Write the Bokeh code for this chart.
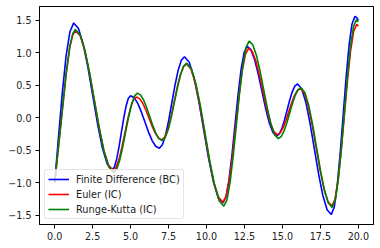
from bokeh.plotting import figure
from bokeh.models import Range1d, FixedTicker, Legend, LegendItem
from bokeh.embed import file_html
from bokeh.resources import INLINE

# ---- data ----
t_fd = [0, 0.25, 0.5, 0.75, 1.0, 1.25, 1.566, 1.883, 2.199, 2.515, 2.831, 3.148, 3.464, 3.78,
        3.933, 4.085, 4.238, 4.39, 4.543, 4.695, 4.848, 5.0, 5.236, 5.473, 5.709, 5.945, 6.181,
        6.418, 6.654, 6.89, 7.098, 7.305, 7.513, 7.72, 7.928, 8.135, 8.343, 8.55, 8.866, 9.183,
        9.499, 9.815, 10.131, 10.448, 10.764, 11.08, 11.28, 11.48, 11.68, 11.88, 12.08, 12.28,
        12.48, 12.68, 12.923, 13.165, 13.408, 13.65, 13.893, 14.135, 14.378, 14.62, 14.793,
        14.965, 15.138, 15.31, 15.483, 15.655, 15.828, 16.0, 16.278, 16.555, 16.833, 17.11,
        17.388, 17.665, 17.943, 18.22, 18.415, 18.61, 18.805, 19.0, 19.195, 19.39, 19.585,
        19.78, 19.9, 20.0]
y_fd = [-1.0, -0.30, 0.38, 0.95, 1.32, 1.46, 1.374, 1.129, 0.763, 0.33, -0.103, -0.469, -0.714,
        -0.80, -0.757, -0.633, -0.448, -0.23, -0.012, 0.173, 0.297, 0.34, 0.309, 0.221, 0.09,
        -0.065, -0.22, -0.351, -0.439, -0.47, -0.416, -0.263, -0.035, 0.235, 0.505, 0.733, 0.886,
        0.94, 0.855, 0.61, 0.246, -0.185, -0.616, -0.98, -1.225, -1.31, -1.218, -0.957, -0.567,
        -0.105, 0.357, 0.747, 1.008, 1.10, 1.048, 0.898, 0.674, 0.41, 0.146, -0.078, -0.228,
        -0.28, -0.25, -0.163, -0.033, 0.12, 0.273, 0.403, 0.49, 0.52, 0.444, 0.226, -0.1, -0.485,
        -0.87, -1.196, -1.414, -1.49, -1.374, -1.043, -0.549, 0.035, 0.619, 1.113, 1.444, 1.56,
        1.54, 1.50]

t_euler = [0, 0.25, 0.5, 0.75, 1.0, 1.2, 1.38, 1.689, 1.998, 2.306, 2.615, 2.924, 3.233, 3.541,
           3.85, 4.041, 4.233, 4.424, 4.615, 4.806, 4.998, 5.189, 5.38, 5.59, 5.8, 6.01, 6.22,
           6.43, 6.64, 6.85, 7.06, 7.263, 7.465, 7.668, 7.87, 8.073, 8.275, 8.478, 8.68, 8.98,
           9.28, 9.58, 9.88, 10.18, 10.48, 10.78, 11.08, 11.293, 11.505, 11.718, 11.93, 12.143,
           12.355, 12.568, 12.78, 13.015, 13.25, 13.485, 13.72, 13.955, 14.19, 14.425, 14.66,
           14.85, 15.04, 15.23, 15.42, 15.61, 15.8, 15.99, 16.18, 16.44, 16.7, 16.96, 17.22,
           17.48, 17.74, 18.0, 18.26, 18.465, 18.67, 18.875, 19.08, 19.285, 19.49, 19.695, 19.9,
           20.0]
y_euler = [-1.0, -0.45, 0.10, 0.66, 1.09, 1.28, 1.34, 1.258, 1.025, 0.677, 0.265, -0.147,
           -0.495, -0.728, -0.81, -0.767, -0.644, -0.461, -0.245, -0.029, 0.154, 0.277, 0.32,
           0.295, 0.223, 0.116, -0.01, -0.136, -0.243, -0.315, -0.34, -0.296, -0.169, 0.021,
           0.245, 0.469, 0.659, 0.786, 0.83, 0.749, 0.518, 0.173, -0.235, -0.643, -0.988, -1.219,
           -1.30, -1.21, -0.953, -0.569, -0.115, 0.339, 0.723, 0.98, 1.07, 1.019, 0.875, 0.66,
           0.405, 0.15, -0.065, -0.209, -0.26, -0.233, -0.156, -0.041, 0.095, 0.231, 0.346, 0.423,
           0.45, 0.381, 0.185, -0.108, -0.455, -0.802, -1.095, -1.291, -1.36, -1.254, -0.95,
           -0.496, 0.04, 0.576, 1.03, 1.334, 1.44, 1.41]

t_rk = [0, 0.25, 0.5, 0.75, 1.0, 1.2, 1.36, 1.675, 1.99, 2.305, 2.62, 2.935, 3.25, 3.565, 3.88,
        4.076, 4.273, 4.469, 4.665, 4.861, 5.058, 5.254, 5.45, 5.654, 5.858, 6.061, 6.265, 6.469,
        6.673, 6.876, 7.08, 7.283, 7.485, 7.688, 7.89, 8.093, 8.295, 8.498, 8.7, 9.005, 9.31,
        9.615, 9.92, 10.225, 10.53, 10.835, 11.14, 11.349, 11.558, 11.766, 11.975, 12.184,
        12.393, 12.601, 12.81, 13.05, 13.29, 13.53, 13.77, 14.01, 14.25, 14.49, 14.73, 14.916,
        15.103, 15.289, 15.475, 15.661, 15.848, 16.034, 16.22, 16.478, 16.735, 16.993, 17.25,
        17.508, 17.765, 18.023, 18.28, 18.48, 18.68, 18.88, 19.08, 19.28, 19.48, 19.68, 19.88,
        20.0]
y_rk = [-1.0, -0.44, 0.12, 0.68, 1.11, 1.30, 1.36, 1.276, 1.038, 0.681, 0.26, -0.161, -0.518,
        -0.756, -0.84, -0.794, -0.661, -0.464, -0.23, 0.004, 0.201, 0.334, 0.38, 0.352, 0.273,
        0.155, 0.015, -0.125, -0.243, -0.322, -0.35, -0.305, -0.176, 0.017, 0.245, 0.473, 0.666,
        0.795, 0.84, 0.756, 0.518, 0.161, -0.26, -0.681, -1.038, -1.276, -1.36, -1.263, -0.988,
        -0.576, -0.09, 0.396, 0.808, 1.083, 1.18, 1.123, 0.96, 0.717, 0.43, 0.143, -0.1, -0.263,
        -0.32, -0.29, -0.206, -0.079, 0.07, 0.219, 0.346, 0.43, 0.46, 0.39, 0.19, -0.108, -0.46,
        -0.812, -1.11, -1.31, -1.38, -1.27, -0.957, -0.488, 0.065, 0.618, 1.087, 1.40, 1.51, 1.48]

series_labels = ["Finite Difference (BC)", "Euler (IC)", "Runge-Kutta (IC)"]
x_ticks = [0, 2.5, 5, 7.5, 10, 12.5, 15, 17.5, 20]
x_tick_labels = ["0.0", "2.5", "5.0", "7.5", "10.0", "12.5", "15.0", "17.5", "20.0"]
y_ticks = [-1.5, -1.0, -0.5, 0, 0.5, 1.0, 1.5]
y_tick_labels = ["\u22121.5", "\u22121.0", "\u22120.5", "0.0", "0.5", "1.0", "1.5"]

FONT = "DejaVu Sans"

p = figure(width=380, height=248, output_backend="svg", toolbar_location=None,
           x_range=Range1d(-1, 21), y_range=Range1d(-1.6425, 1.7125),
           min_border_left=39, min_border_right=7, min_border_top=6, min_border_bottom=24)
p.background_fill_color = "white"
p.border_fill_color = "white"
p.grid.visible = False
p.outline_line_color = "black"
p.outline_line_width = 1
p.outline_line_alpha = 1

for ax in p.axis:
    ax.axis_line_color = "black"
    ax.minor_tick_line_color = None
    ax.major_tick_in = 0
    ax.major_tick_out = 4
    ax.major_tick_line_color = "black"
    ax.major_label_text_font = FONT
    ax.major_label_text_font_size = "9.6px"
    ax.major_label_text_color = "#222222"

p.xaxis.ticker = FixedTicker(ticks=x_ticks)
p.xaxis.major_label_overrides = {t: l for t, l in zip(x_ticks, x_tick_labels)}
p.xaxis.major_label_standoff = 3
p.yaxis.ticker = FixedTicker(ticks=y_ticks)
p.yaxis.major_label_overrides = {t: l for t, l in zip(y_ticks, y_tick_labels)}
p.yaxis.major_label_standoff = 4

r1 = p.line(t_fd, y_fd, line_color="#0000ff", line_width=1.6)
r2 = p.line(t_euler, y_euler, line_color="#ff0000", line_width=1.6)
r3 = p.line(t_rk, y_rk, line_color="#008000", line_width=1.6)

legend = Legend(items=[LegendItem(label=series_labels[0], renderers=[r1]),
                       LegendItem(label=series_labels[1], renderers=[r2]),
                       LegendItem(label=series_labels[2], renderers=[r3])],
                location=(5, 5), margin=0, padding=3, spacing=3,
                glyph_width=21, glyph_height=12, label_height=12, label_standoff=7,
                label_text_font=FONT, label_text_font_size="9.75px",
                label_text_color="#222222",
                border_line_color="#cccccc", border_line_width=1,
                background_fill_color="white", background_fill_alpha=0.8)
if "border_radius" in Legend.properties():
    legend.border_radius = 3
p.add_layout(legend, "center")

open("out.html", "w").write(file_html(p, INLINE))
